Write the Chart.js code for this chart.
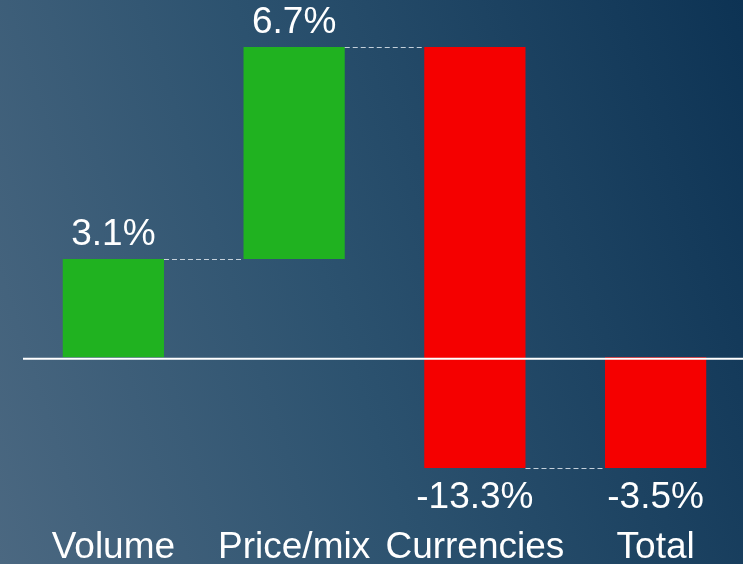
<!DOCTYPE html>
<html>
<head>
<meta charset="utf-8">
<script src="https://cdn.jsdelivr.net/npm/chart.js@4.4.1/dist/chart.umd.min.js"></script>
<style>
  html, body { margin: 0; padding: 0; overflow: hidden; }
  body {
    width: 743px; height: 564px;
    background: linear-gradient(72deg, #4b6881 0%, #2c526f 45%, #0d3354 100%);
  }
  #wrap { position: relative; width: 746px; height: 564px; }
</style>
</head>
<body>
<div id="wrap"><canvas id="waterfall"></canvas></div>
<script>
const categories = ["Volume", "Price/mix", "Currencies", "Total"];
const changes = [3.1, 6.7, -13.3, -3.5];
const isTotal = [false, false, false, true];
const upColor = "#20b220";
const downColor = "#f50000";

// floating ranges for the waterfall
let running = 0;
const ranges = changes.map((v, i) => {
  if (isTotal[i]) return [0, v];
  const r = [running, running + v];
  running += v;
  return r;
});
const barColors = changes.map((v) => (v >= 0 ? upColor : downColor));

const FONT = "'Liberation Sans', Arial, sans-serif";

const waterfallExtras = {
  id: "waterfallExtras",
  afterDatasetsDraw(chart) {
    const ctx = chart.ctx;
    const y = chart.scales.y;
    const area = chart.chartArea;
    const meta = chart.getDatasetMeta(0);

    // dashed connectors between bars
    ctx.save();
    ctx.strokeStyle = "rgba(225,232,238,0.85)";
    ctx.lineWidth = 1;
    ctx.setLineDash([5, 3]);
    for (let i = 0; i < ranges.length - 1; i++) {
      const level = ranges[i][1];
      const a = meta.data[i], b = meta.data[i + 1];
      const py = Math.round(y.getPixelForValue(level)) + 0.5;
      ctx.beginPath();
      ctx.moveTo(a.x + a.width / 2, py);
      ctx.lineTo(b.x - b.width / 2, py);
      ctx.stroke();
    }
    ctx.restore();

    // zero line
    ctx.save();
    ctx.strokeStyle = "#ffffff";
    ctx.lineWidth = 2;
    const zy = y.getPixelForValue(0);
    ctx.beginPath();
    ctx.moveTo(area.left, zy + 1.5);
    ctx.lineTo(area.right, zy + 1.5);
    ctx.stroke();
    ctx.restore();

    // value labels
    ctx.save();
    ctx.fillStyle = "#ffffff";
    ctx.font = "37px " + FONT;
    ctx.textAlign = "center";
    ctx.textBaseline = "alphabetic";
    changes.forEach((v, i) => {
      const bar = meta.data[i];
      const top = y.getPixelForValue(Math.max(ranges[i][0], ranges[i][1]));
      const bottom = y.getPixelForValue(Math.min(ranges[i][0], ranges[i][1]));
      const txt = v.toFixed(1) + "%";
      if (v >= 0) {
        ctx.fillText(txt, bar.x, top - 14);
      } else {
        ctx.fillText(txt, bar.x, bottom + 40);
      }
    });
    ctx.restore();
  },
};

new Chart(document.getElementById("waterfall"), {
  type: "bar",
  data: {
    labels: categories,
    datasets: [
      {
        data: ranges,
        backgroundColor: barColors,
        borderWidth: 0,
        barPercentage: 0.56,
        categoryPercentage: 1,
      },
    ],
  },
  options: {
    responsive: true,
    maintainAspectRatio: false,
    animation: false,
    layout: { padding: { left: 23, right: 0, top: 0, bottom: 0 } },
    plugins: {
      legend: { display: false },
      tooltip: { enabled: false },
    },
    scales: {
      x: {
        grid: { display: false, drawTicks: false },
        border: { display: false },
        afterFit(scale) {
          scale.height = 46;
        },
        ticks: {
          color: "#ffffff",
          font: { family: FONT, size: 37, lineHeight: 1.2 },
          padding: 8,
          maxRotation: 0,
          autoSkip: false,
        },
      },
      y: {
        display: false,
        min: -5.08,
        max: 11.285,
      },
    },
  },
  plugins: [waterfallExtras],
});
</script>
</body>
</html>
